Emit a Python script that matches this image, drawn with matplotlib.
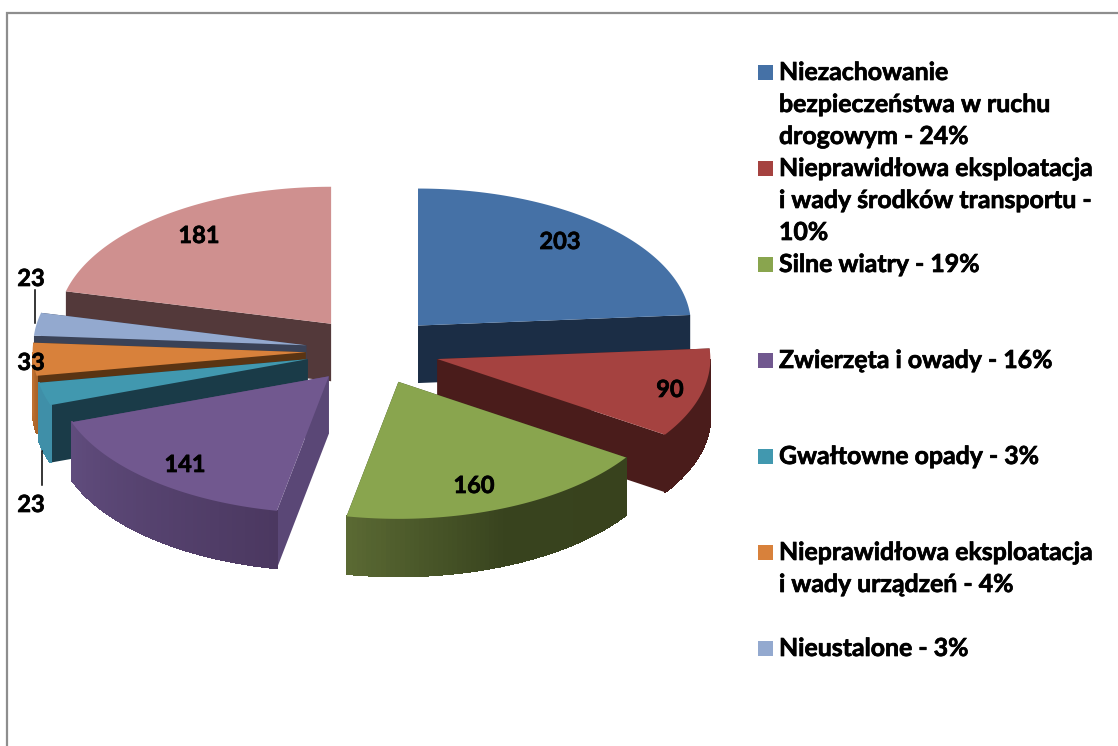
import numpy as np
import matplotlib
matplotlib.use("Agg")
import matplotlib.pyplot as plt
import matplotlib.patheffects as pe
from matplotlib.colors import LinearSegmentedColormap

# Slice values, clockwise from 12 o'clock
values = [203, 90, 160, 141, 23, 33, 23, 181]
top_colors = ["#4571a6", "#a54240", "#89a54e", "#71588f", "#4198af", "#d8813b", "#93a9cf", "#cf908f"]
cut_colors = ["#1b2d45", "#4a1c1b", "#37421f", "#5a4776", "#1a3b48", "#5a3413", "#3a4257", "#53393a"]
wall_colors = [
    ["#1b2d45", "#1b2d45"],
    ["#4a1c1b", "#4a1c1b"],
    ["#5a6933", "#38431e", "#38421d"],
    ["#604c7d", "#4b3860"],
    ["#3f8fa8", "#3f8fa8"],
    ["#c0702f", "#a86228"],
    ["#3a4257", "#3a4257"],
    ["#53393a", "#53393a"],
]

# Legend text, one inner list per entry, one string per line
legend_entries = [
    ["Niezachowanie", "bezpieczeństwa w ruchu", "drogowym - 24%"],
    ["Nieprawidłowa eksploatacja", "i wady środków transportu -", "10%"],
    ["Silne wiatry - 19%"],
    ["Zwierzęta i owady - 16%"],
    ["Gwałtowne opady - 3%"],
    ["Nieprawidłowa eksploatacja", "i wady urządzeń - 4%"],
    ["Nieustalone - 3%"],
]

# Layout in image pixels
cx, cy = 372.5, 350.5
rx, ry = 273, 137
explode_x, explode_y = 67, 34
depth = 57.5
draw_order = [0, 7, 6, 5, 4, 1, 3, 2]
label_pos = [(560, 241.5), (670, 389.5), (474, 485.5), (185, 464.5), (31, 504.5), (31, 362.5), (31, 278.5), (199, 235.5)]
legend_baselines = [80, 176, 272, 368, 464, 560, 656]
line_step = 32
text_font = "Lato"
bolder = [pe.withStroke(linewidth=0.5, foreground="black")]

fig = plt.figure(figsize=(11.18, 7.46), dpi=100)
ax = fig.add_axes([0, 0, 1, 1])
ax.set_xlim(0, 1118)
ax.set_ylim(746, 0)
ax.axis("off")

# Chart frame, only left and top show in the crop
ax.plot([6.5, 6.5, 1118], [746, 13, 13], color="#8e8e8e", linewidth=1.6, solid_joinstyle="miter")

angles = np.concatenate([[0], np.cumsum(values)]) / np.sum(values) * 360


def arc(ax0, ay0, t1, t2, n=80):
    t = np.radians(np.linspace(t1, t2, n))
    return ax0 + rx * np.sin(t), ay0 - ry * np.cos(t)


for i in draw_order:
    t1, t2 = angles[i], angles[i + 1]
    mid = np.radians((t1 + t2) / 2)
    ax0 = cx + explode_x * np.sin(mid)
    ay0 = cy - explode_y * np.cos(mid)
    layer = draw_order.index(i) * 3

    # Cut faces, the hidden ones get covered by the top and wall
    for t in (t1, t2):
        ex, ey = arc(ax0, ay0, t, t, 1)
        ax.fill([ax0, ex[0], ex[0], ax0], [ay0, ey[0], ey[0] + depth, ay0 + depth],
                facecolor=cut_colors[i], edgecolor="none", zorder=2 + layer)

    # Outer wall, only the front half is visible
    w1, w2 = max(t1, 90), min(t2, 270)
    if w1 < w2:
        cmap = LinearSegmentedColormap.from_list("wall", wall_colors[i])
        n = max(int(w2 - w1), 2)
        xs, ys = arc(ax0, ay0, w1, w2, n + 1)
        for k in range(n):
            # gradient runs left to right on screen
            f = 1 - (k + 0.5) / n if xs[0] > xs[-1] else (k + 0.5) / n
            ax.fill([xs[k], xs[k + 1], xs[k + 1], xs[k]],
                    [ys[k], ys[k + 1], ys[k + 1] + depth, ys[k] + depth],
                    facecolor=cmap(f), edgecolor=cmap(f), linewidth=0.7,
                    antialiased=False, zorder=3 + layer)

    # Top surface
    xs, ys = arc(ax0, ay0, t1, t2)
    ax.fill(np.r_[ax0, xs], np.r_[ay0, ys], facecolor=top_colors[i], edgecolor="none",
            zorder=4 + layer)

# Value labels
for v, (x, y) in zip(values, label_pos):
    ax.text(x, y, str(v), ha="center", va="center", fontsize=17, fontweight="bold",
            family=text_font, color="black", zorder=50, path_effects=bolder)

# Leader lines for the small slices
ax.plot([35, 35], [290, 323], color="black", linewidth=1.1, zorder=51)
ax.plot([42, 42], [451, 485], color="black", linewidth=1.1, zorder=51)

# Legend
for color, lines, base in zip(top_colors, legend_entries, legend_baselines):
    ax.fill([758, 773, 773, 758], [base - 15, base - 15, base, base], color=color, linewidth=0)
    for k, line in enumerate(lines):
        ax.text(779, base + k * line_step, line, ha="left", va="baseline", fontsize=17.9,
                fontweight="bold", family=text_font, color="black", path_effects=bolder)

fig.savefig("out.png", dpi=100, facecolor="white")
plt.close(fig)
